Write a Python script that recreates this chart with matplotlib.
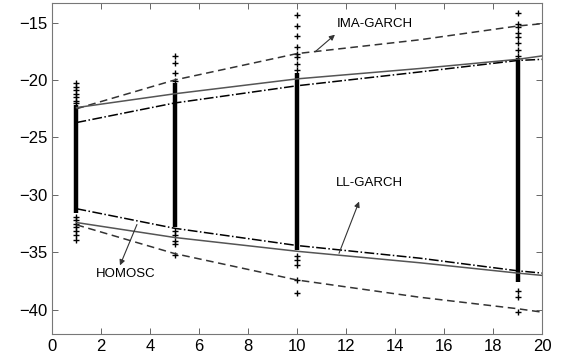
import matplotlib
matplotlib.use("Agg")
import matplotlib.pyplot as plt

plt.rcParams['font.family'] = ['Liberation Sans', 'DejaVu Sans']

# horizons where curves are evaluated
horizon = [1, 5, 10, 15, 19, 20]

# upper bands
ima_up = [-22.5, -20.0, -17.7, -16.5, -15.3, -15.1]
homosc_up = [-22.4, -21.2, -19.9, -19.0, -18.2, -17.9]
ll_up = [-23.7, -22.0, -20.5, -19.3, -18.3, -18.2]

# lower bands
ima_lo = [-32.6, -35.1, -37.4, -38.9, -39.9, -40.2]
homosc_lo = [-32.4, -33.7, -34.9, -35.9, -36.8, -37.0]
ll_lo = [-31.2, -32.9, -34.4, -35.5, -36.6, -36.8]

# realised values: dense core range + sparse tail points per horizon
col_x = [1, 5, 10, 19]
core_top = [-22.2, -20.3, -19.4, -18.1]
core_bot = [-31.6, -32.8, -34.8, -37.6]
tails = [
    [-20.3, -20.6, -20.9, -21.2, -21.5, -21.8, -22.0,
     -31.9, -32.2, -32.5, -32.8, -33.1, -33.5, -33.9],
    [-17.9, -18.5, -19.4, -20.1,
     -33.1, -33.5, -34.0, -34.3, -35.2],
    [-14.3, -15.3, -16.2, -17.1, -17.7, -18.0, -18.6, -19.1,
     -35.3, -35.7, -36.1, -37.4, -38.5],
    [-14.2, -15.1, -15.4, -15.9, -16.3, -16.8, -17.4, -17.9,
     -38.4, -38.9, -40.2],
]

fig = plt.figure(figsize=(5.7, 3.59), dpi=100)
ax = fig.add_axes([0.0912, 0.0696, 0.860, 0.922])

for x, top, bot, pts in zip(col_x, core_top, core_bot, tails):
    ax.vlines(x, bot, top, color='black', lw=3.2, zorder=2)
    ax.plot([x] * len(pts), pts, '+', color='black', ms=4.5, mew=1.0, zorder=2)

gray = '#555555'
ax.plot(horizon, ima_up, '--', color='#333333', lw=1.1, dashes=(5, 3), zorder=3)
ax.plot(horizon, ima_lo, '--', color='#333333', lw=1.1, dashes=(5, 3), zorder=3)
ax.plot(horizon, homosc_up, '-', color=gray, lw=1.1, zorder=3)
ax.plot(horizon, homosc_lo, '-', color=gray, lw=1.1, zorder=3)
ax.plot(horizon, ll_up, '-.', color='black', lw=1.1, zorder=3)
ax.plot(horizon, ll_lo, '-.', color='black', lw=1.1, zorder=3)

arrow = dict(arrowstyle='-|>', color='#333333', lw=0.8, mutation_scale=8)
ax.annotate('', xy=(11.63, -15.9), xytext=(10.65, -17.7), arrowprops=arrow)
ax.text(11.6, -15.1, 'IMA-GARCH', fontsize=9.5, ha='left', va='center')
ax.annotate('', xy=(12.57, -30.35), xytext=(11.67, -35.3), arrowprops=arrow)
ax.text(11.6, -29.0, 'LL-GARCH', fontsize=9.5, ha='left', va='center')
ax.annotate('', xy=(2.73, -36.35), xytext=(3.51, -32.35), arrowprops=arrow)
ax.text(3.02, -36.9, 'HOMOSC', fontsize=9.5, ha='center', va='center')

ax.set_xlim(0, 20)
ax.set_ylim(-42.1, -13.3)
ax.set_xticks(range(0, 21, 2))
ax.set_yticks([-40, -35, -30, -25, -20, -15])
ax.tick_params(direction='in', top=True, right=True, length=4, width=0.7,
               color='#666666', labelsize=12)
for s in ax.spines.values():
    s.set_color('#777777')
    s.set_linewidth(0.8)

fig.savefig('out.png', dpi=100)
